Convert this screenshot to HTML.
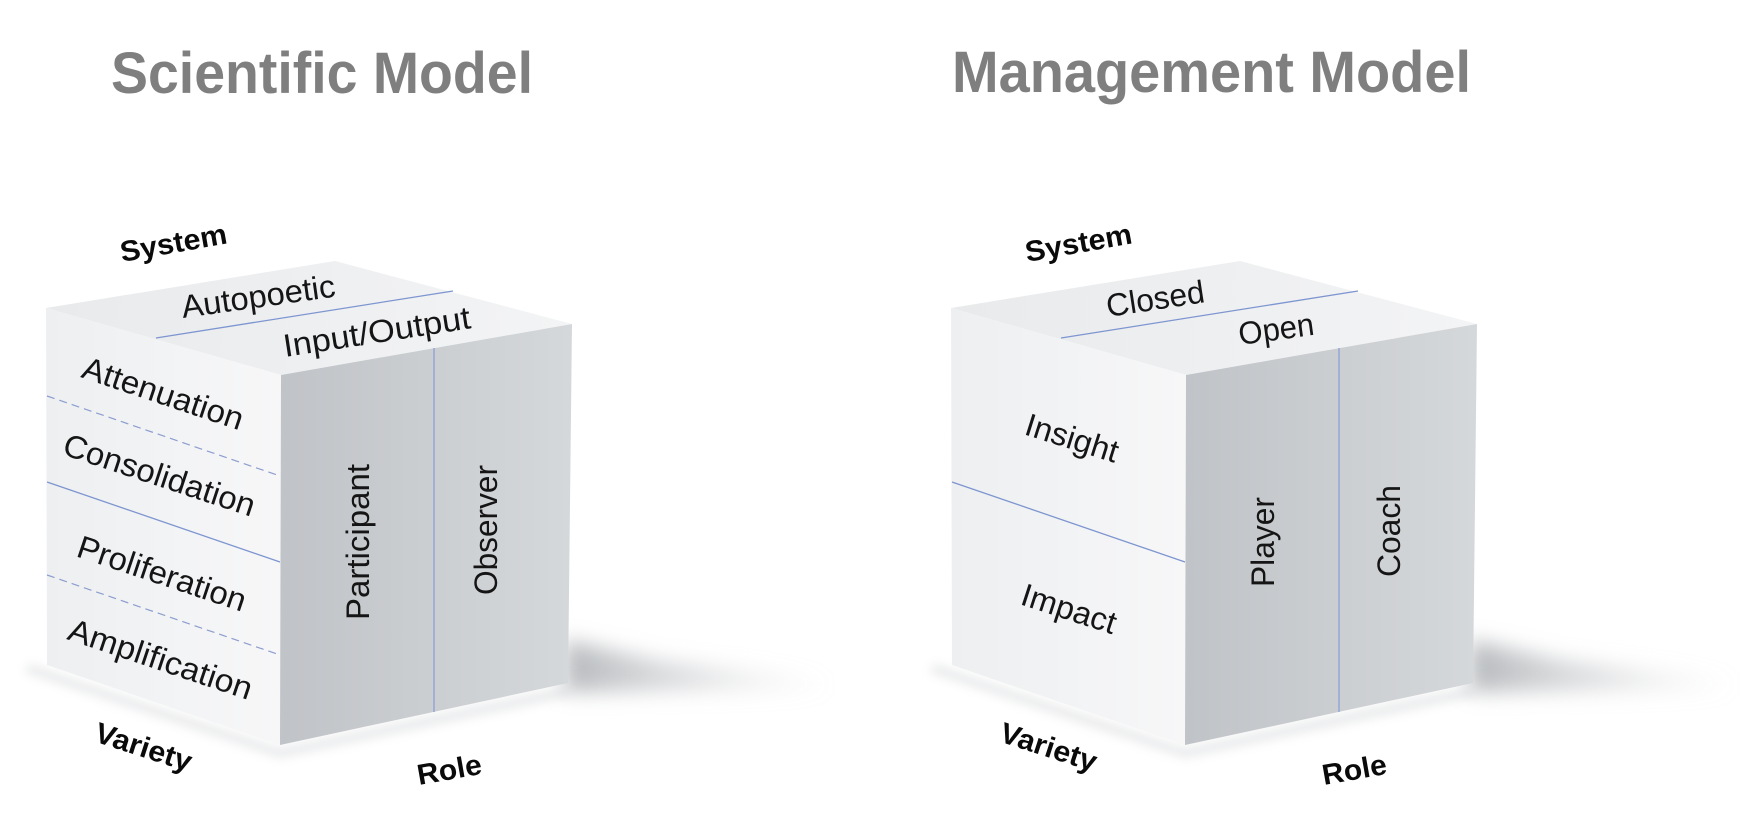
<!DOCTYPE html>
<html>
<head>
<meta charset="utf-8">
<style>
  html,body{margin:0;padding:0;background:#ffffff;}
  svg{display:block;}
  text{font-family:"Liberation Sans", Arial, sans-serif;}
  .ttl{font-size:58px;font-weight:bold;fill:#7f7f7f;}
  .lbl{font-size:32px;fill:#151515;}
  .ax{font-size:29px;font-weight:bold;fill:#0a0a0a;}
</style>
</head>
<body>
<svg width="1744" height="834" viewBox="0 0 1744 834" xmlns="http://www.w3.org/2000/svg">
  <defs>
    <linearGradient id="gTop" x1="46" y1="300" x2="572" y2="330" gradientUnits="userSpaceOnUse">
      <stop offset="0" stop-color="#e8eaec"/>
      <stop offset="0.6" stop-color="#eff0f2"/>
      <stop offset="1" stop-color="#f3f4f5"/>
    </linearGradient>
    <linearGradient id="gLeft" x1="46" y1="0" x2="281" y2="0" gradientUnits="userSpaceOnUse">
      <stop offset="0" stop-color="#edeff1"/>
      <stop offset="1" stop-color="#f7f7f8"/>
    </linearGradient>
    <linearGradient id="gRight" x1="281" y1="0" x2="572" y2="0" gradientUnits="userSpaceOnUse">
      <stop offset="0" stop-color="#c0c3c7"/>
      <stop offset="0.5" stop-color="#cbced1"/>
      <stop offset="1" stop-color="#d5d8db"/>
    </linearGradient>
    <linearGradient id="gSh" x1="565" y1="0" x2="830" y2="0" gradientUnits="userSpaceOnUse">
      <stop offset="0" stop-color="#a4a8ac" stop-opacity="0.8"/>
      <stop offset="0.45" stop-color="#b8bbbe" stop-opacity="0.45"/>
      <stop offset="1" stop-color="#d0d2d4" stop-opacity="0"/>
    </linearGradient>
    <filter id="blur10" x="-50%" y="-50%" width="200%" height="200%">
      <feGaussianBlur stdDeviation="10"/>
    </filter>
    <filter id="blur5" x="-50%" y="-50%" width="200%" height="200%">
      <feGaussianBlur stdDeviation="5"/>
    </filter>

    <g id="cube">
      <!-- shadows -->
      <polygon points="565,640 660,660 830,680 830,690 565,692" fill="url(#gSh)" filter="url(#blur10)"/>
      <polygon points="30,664 280,748 568,686 570,696 280,758 24,672" fill="#c8cbce" opacity="0.4" filter="url(#blur5)"/>
      <!-- faces -->
      <polygon points="46,308 335,261 572,324 281,375" fill="url(#gTop)"/>
      <polygon points="46,308 281,375 280,745 47,665" fill="url(#gLeft)"/>
      <polygon points="281,375 572,324 568,683 280,745" fill="url(#gRight)"/>
      <!-- face dividers -->
      <line x1="156" y1="338" x2="453" y2="291" stroke="#7d95d0" stroke-width="1.3"/>
      <line x1="434" y1="348" x2="434" y2="712" stroke="#8aa0d6" stroke-width="1.3"/>
      <line x1="47" y1="482" x2="280" y2="562" stroke="#7d95d0" stroke-width="1.3"/>
    </g>
  </defs>

  <!-- Titles -->
  <text class="ttl" x="111" y="93" textLength="422" lengthAdjust="spacingAndGlyphs">Scientific Model</text>
  <text class="ttl" x="952" y="92" textLength="519" lengthAdjust="spacingAndGlyphs">Management Model</text>

  <!-- ===== Left cube ===== -->
  <use href="#cube"/>
  <line x1="47" y1="396" x2="280" y2="476" stroke="#8c9dcf" stroke-width="1.2" stroke-dasharray="8,5"/>
  <line x1="47" y1="575" x2="280" y2="655" stroke="#8c9dcf" stroke-width="1.2" stroke-dasharray="8,5"/>

  <text class="ax" transform="translate(122,262) rotate(-10)" textLength="108" lengthAdjust="spacingAndGlyphs">System</text>
  <text class="lbl" transform="translate(183,318) rotate(-8)" textLength="155" lengthAdjust="spacingAndGlyphs">Autopoetic</text>
  <text class="lbl" transform="translate(285,357) rotate(-8.8)" textLength="189" lengthAdjust="spacingAndGlyphs">Input/Output</text>

  <text class="lbl" transform="translate(80,377) rotate(18.5)" textLength="168" lengthAdjust="spacingAndGlyphs">Attenuation</text>
  <text class="lbl" transform="translate(61,454) rotate(18.3)" textLength="200" lengthAdjust="spacingAndGlyphs">Consolidation</text>
  <text class="lbl" transform="translate(75,556) rotate(18.5)" textLength="176" lengthAdjust="spacingAndGlyphs">Proliferation</text>
  <text class="lbl" transform="translate(66,639) rotate(18.5)" textLength="192" lengthAdjust="spacingAndGlyphs">Amplification</text>

  <text class="lbl" transform="translate(369,620) rotate(-90)" textLength="156" lengthAdjust="spacingAndGlyphs">Participant</text>
  <text class="lbl" transform="translate(497,595) rotate(-90)" textLength="130" lengthAdjust="spacingAndGlyphs">Observer</text>

  <text class="ax" transform="translate(93,741) rotate(18)" textLength="100" lengthAdjust="spacingAndGlyphs">Variety</text>
  <text class="ax" transform="translate(419,785) rotate(-10)" textLength="65" lengthAdjust="spacingAndGlyphs">Role</text>

  <!-- ===== Right cube ===== -->
  <use href="#cube" transform="translate(905,0)"/>

  <text class="ax" transform="translate(1027,262) rotate(-10)" textLength="108" lengthAdjust="spacingAndGlyphs">System</text>
  <text class="lbl" transform="translate(1108,317) rotate(-8.7)" textLength="99" lengthAdjust="spacingAndGlyphs">Closed</text>
  <text class="lbl" transform="translate(1240,345) rotate(-7.8)" textLength="76" lengthAdjust="spacingAndGlyphs">Open</text>

  <text class="lbl" transform="translate(1023,434) rotate(17.5)" textLength="96" lengthAdjust="spacingAndGlyphs">Insight</text>
  <text class="lbl" transform="translate(1019,604) rotate(18)" textLength="98" lengthAdjust="spacingAndGlyphs">Impact</text>

  <text class="lbl" transform="translate(1274,587) rotate(-90)" textLength="90" lengthAdjust="spacingAndGlyphs">Player</text>
  <text class="lbl" transform="translate(1400,577) rotate(-90)" textLength="92" lengthAdjust="spacingAndGlyphs">Coach</text>

  <text class="ax" transform="translate(998,741) rotate(18)" textLength="100" lengthAdjust="spacingAndGlyphs">Variety</text>
  <text class="ax" transform="translate(1324,785) rotate(-10)" textLength="65" lengthAdjust="spacingAndGlyphs">Role</text>
</svg>
</body>
</html>
